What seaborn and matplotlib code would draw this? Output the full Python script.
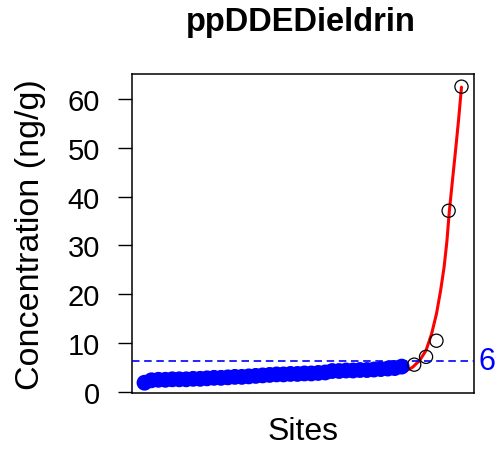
import numpy as np
import matplotlib
matplotlib.use('agg')
import matplotlib.pyplot as plt
import matplotlib.transforms as mtransforms
import seaborn as sns

# data
site_idx = list(range(1, 39))
conc_low = [1.9, 2.4, 2.5, 2.5, 2.6, 2.6, 2.6, 2.7, 2.7, 2.8,
            2.9, 2.9, 3.0, 3.1, 3.1, 3.2, 3.3, 3.4, 3.5, 3.6,
            3.6, 3.7, 3.7, 3.8, 3.8, 3.9, 4.0, 4.3, 4.3, 4.4,
            4.4, 4.5, 4.5, 4.6, 4.7, 4.8, 4.9, 5.2]
site_high = [39.8, 41.5, 43.0, 44.75, 46.6]
conc_high = [5.6, 7.2, 10.5, 37.1, 62.5]
fit_x = [1, 10, 20, 30, 36, 38.3, 39.6, 40.6, 41.5, 42.3, 43.0, 43.6,
         44.1, 44.5, 44.85, 45.3, 45.8, 46.2, 46.6]
fit_y = [3.0, 3.3, 3.6, 3.8, 3.9, 4.1, 5.1, 6.5, 8.5, 11.9, 16.0, 20.8,
         25.6, 30.8, 37.0, 43.3, 50.2, 56.0, 62.4]
threshold = 6.4
title = "ppDDEDieldrin"
yticks = [0, 10, 20, 30, 40, 50, 60]

sns.set_theme(style="white")
plt.rcParams['font.family'] = ['Liberation Sans', 'DejaVu Sans']
plt.rcParams['text.color'] = 'black'
plt.rcParams['ytick.color'] = 'black'

fig = plt.figure(figsize=(4.99, 4.56), dpi=100)
ax = fig.add_axes([0.2645, 0.136, 0.6854, 0.6996])

sns.lineplot(x=fit_x, y=fit_y, ax=ax, color="#ff0000", linewidth=2.2,
             sort=False, estimator=None, zorder=2)
sns.scatterplot(x=site_idx, y=conc_low, ax=ax, color="#0000ff", s=130,
                edgecolor="none", zorder=3)
sns.scatterplot(x=site_high, y=conc_high, ax=ax, facecolor="none", s=90,
                edgecolor="black", linewidth=0.9, zorder=4)
ax.axhline(threshold, color="#0000ff", linewidth=1.2,
           linestyle=(0, (4.5, 2.8)), zorder=5)

trans = mtransforms.blended_transform_factory(ax.transAxes, ax.transData)
ax.text(1.012, threshold, f"{threshold:.0f}", transform=trans, color="#0000ff",
        fontsize=22, ha="left", va="center")

ax.set_xlim(-0.8, 48.4)
ax.set_ylim(-0.2, 65.1)
ax.set_xticks([])
ax.set_yticks(yticks)
ax.set_yticklabels([str(t) for t in yticks], fontsize=21)
ax.tick_params(axis="y", left=True, length=10, width=1.0, pad=13,
               color="black", labelcolor="black")
for sp in ax.spines.values():
    sp.set_color("black")
    sp.set_linewidth(1.1)
ax.set_xlabel("")
ax.set_ylabel("")

fig.text(301 / 499, 1 - 23 / 456, title, fontsize=23.5, fontweight="bold",
         ha="center", va="center", color="black")
fig.text(31 / 499, 1 - 235 / 456, "Concentration (ng/g)", fontsize=24.5,
         rotation=90, ha="center", va="center", color="black")
fig.text(303 / 499, 1 - 432 / 456, "Sites", fontsize=23, ha="center",
         va="center", color="black")

plt.savefig("out.png", dpi=100)
plt.close()
